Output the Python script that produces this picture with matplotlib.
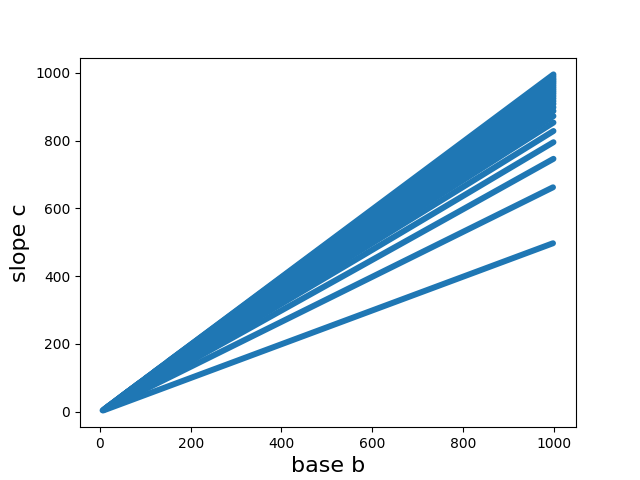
import matplotlib
matplotlib.use("Agg")
import matplotlib.pyplot as plt

start_b = [8, 6, 8, 10, 12, 14, 16, 18, 20, 24, 28, 32, 36, 40, 44, 48, 52, 56, 60, 70, 80, 100, 120, 150]
start_c = [4, 4, 6, 8, 10, 12, 14, 16, 18, 22, 26, 30, 34, 38, 42, 46, 50, 54, 58, 68, 78, 98, 118, 148]
end_b = [998, 998, 999, 999, 999, 999, 999, 999, 999, 999, 999, 999, 999, 999, 999, 999, 999, 999, 999, 999, 999, 999, 999, 999]
end_c = [497, 662, 746, 795, 828, 853, 872, 887, 898, 908, 916, 924, 931, 938, 944, 950, 956, 962, 968, 973, 978, 983, 989, 995]

fig, ax = plt.subplots(figsize=(6.4, 4.8), dpi=100)
for b0, c0, b1, c1 in zip(start_b, start_c, end_b, end_c):
    ax.plot([b0, b1], [c0, c1], color="#1f77b4", lw=4.3, solid_capstyle="round")
ax.set_xlabel("base b", fontsize=16)
ax.set_ylabel("slope c", fontsize=16)
fig.savefig("out.png", dpi=100)
